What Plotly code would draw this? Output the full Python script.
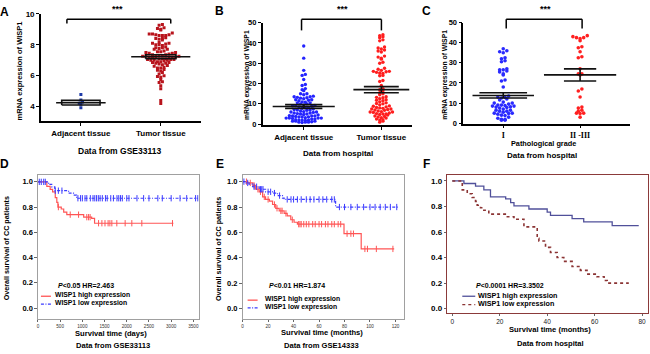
import numpy as np
import plotly.graph_objects as go

# ---------------- data ----------------
A_categories = ["Adjacent tissue", "Tumor tissue"]
A_adjacent = [4.78, 4.42, 4.3, 4.22, 4.15, 3.92]
A_tumor = [9.3, 9.25, 9.1, 9.05, 9.0, 8.95,
           8.75, 8.7, 8.7, 8.65, 8.65, 8.6, 8.6, 8.6,
           8.45, 8.4, 8.4, 8.35, 8.3,
           8.15, 8.1, 8.1, 8.05, 8.0, 8.0, 7.95,
           7.85, 7.8, 7.8, 7.75, 7.7, 7.7,
           7.6, 7.55, 7.55, 7.5, 7.5, 7.45, 7.45, 7.4,
           7.35, 7.35, 7.3, 7.3, 7.3, 7.25, 7.25, 7.25, 7.2, 7.2, 7.2, 7.2,
           7.15, 7.15, 7.1, 7.1, 7.1, 7.05, 7.05, 7.05, 7.0, 7.0, 7.0,
           6.95, 6.9, 6.9, 6.85, 6.85, 6.8, 6.8, 6.75,
           6.7, 6.65, 6.6, 6.55, 6.5, 6.5,
           6.4, 6.35, 6.3, 6.2,
           6.1, 6.0, 5.95, 5.9,
           5.75, 5.6, 5.55,
           5.35, 5.15,
           4.4, 4.2]
A_mean = [4.25, 7.22]
A_sem = [0.15, 0.13]
A_yticks = [4, 6, 8, 10]

B_categories = ["Adjacent tissue", "Tumor tissue"]
B_adjacent = [38.5, 32.5, 26.5, 24.5, 24, 22, 19.5, 19, 17.5, 17, 16.5, 15, 15, 14.5,
              13.8, 13.5, 13.5, 13.2, 13, 12.8, 12.5, 12, 12, 11.8, 11.5, 11, 10.8, 10.5, 10.5, 10, 10,
              9.5, 9.2, 9, 9, 8.8, 8.5, 8.2, 8, 7.8, 7.5, 7.2, 7, 7, 6.8, 6.5, 6.2, 6, 6, 5.8,
              5.5, 5.5, 5.2, 5, 5, 4.8, 4.5, 4.2, 4, 4, 4, 3.8, 3.5, 3.5, 3.5, 3.2, 3, 3, 3, 3,
              2.8, 2.5, 2.5, 2.2, 2, 2, 2, 1.8, 1.5, 1.5, 1.5, 1.2, 1, 1, 1, 0.8]
B_tumor = [44, 43.5, 43, 42.5, 41.5, 41, 38, 37.5, 37, 36.5, 36, 35.5, 33.5, 33, 32.5, 32,
           30.5, 30, 27.5, 27, 26.5, 26, 26, 25.8, 25.5, 25.2, 25, 24, 23.8, 21.5, 21, 19,
           17.5, 17, 16.5, 15.5, 15, 14.5, 13.5, 13.2, 13, 12.5, 12, 11.8, 11.5, 11, 10.5,
           10.2, 10, 9.5, 9, 8.8, 8.5, 8.2, 8, 7.8, 7.5, 7.5, 7.2, 7, 6.8, 6.5, 6.2, 6, 6,
           5.8, 5.5, 5.2, 5, 5, 4.8, 4.5, 4, 3.8, 3.5, 3.2, 3, 2.5, 2.2, 2, 1.5, 1]
B_mean = [8.7, 17.0]
B_sem = [0.9, 1.5]
BC_yticks = [0, 10, 20, 30, 40, 50]

C_categories = ["I", "II -III"]
C_grade1 = [37, 36, 35.5, 35, 32.5, 32, 31, 30.5, 27, 26.5, 26.5, 26, 25.5, 24.5, 24, 21.5,
            21, 18, 13.5, 13, 12.8, 12.5, 12, 11.5, 10.5, 10, 10, 9.5, 9, 9, 8.8, 8.5, 8.5,
            8.2, 8, 7.8, 7.5, 7, 6.5, 6.5, 6, 6, 5.5, 5, 5, 4.8, 4.5, 4, 3.8, 3, 2.5, 2, 2,
            1.5, 1.5]
C_grade23 = [43.5, 43, 42.5, 42.5, 42, 41, 38, 37.5, 35.5, 33, 32.5, 27, 24.5, 24.5, 24,
             17, 16, 13, 8, 7.5, 6.5, 6, 5, 5, 4.8, 3]
C_mean = [13.8, 24.0]
C_sem = [1.3, 3.0]

KM_yticks = [0, 0.2, 0.4, 0.6, 0.8, 1.0]

D_high_time = [0, 200, 275, 330, 390, 425, 450, 525, 580, 650, 1030, 1210, 1275, 3050]
D_high_surv = [1.0, 0.965, 0.94, 0.92, 0.875, 0.837, 0.80, 0.785, 0.76, 0.74, 0.72, 0.71, 0.672, 0.672]
D_high_censor = [460, 727, 915, 1100, 1140, 1175, 1365, 1440, 1510, 1580, 1620, 1664, 1776, 1964, 2114, 2339, 3030]
D_low_time = [0, 240, 310, 380, 690, 800, 870, 3600]
D_low_surv = [1.0, 0.98, 0.96, 0.93, 0.91, 0.895, 0.87, 0.87]
D_low_censor = [30, 75, 130, 165, 390, 460, 540, 900, 960, 1000, 1060, 1100, 1180, 1240, 1280,
                1320, 1360, 1400, 1450, 1520, 1560, 1640, 1700, 1780, 1820, 1860, 1900, 2000,
                2050, 2230, 2380, 2500, 2700, 2800, 3000, 3200, 3350, 3550, 3600]
D_xticks = [0, 500, 1000, 1500, 2000, 2500, 3000, 3500]

E_high_time = [0, 4, 8, 10, 13, 15.7, 18, 21, 23.5, 26, 28.7, 32.6, 35, 37.8, 40.4, 43, 79.6, 93.1, 119]
E_high_surv = [1.0, 0.99, 0.97, 0.94, 0.92, 0.88, 0.86, 0.846, 0.82, 0.79, 0.77, 0.75, 0.73, 0.70, 0.68, 0.665, 0.59, 0.47, 0.47]
E_high_censor = [3, 6, 9, 12, 14, 17, 20, 25, 27, 30, 31, 34, 39, 44, 45, 46, 48, 50, 52, 55, 57,
                 60, 62, 65, 67, 70, 72, 75, 77, 82, 85, 87, 96, 98, 105, 118]
E_low_time = [0, 2.6, 5, 7.8, 13, 18, 23.5, 27.4, 31.3, 32.6, 73, 122]
E_low_surv = [1.0, 0.99, 0.98, 0.96, 0.94, 0.92, 0.91, 0.89, 0.87, 0.86, 0.80, 0.80]
E_low_censor = [1, 4, 9, 11, 14, 15, 16, 20, 22, 25, 29, 35, 38, 40, 43, 46, 50, 53, 56, 60, 63,
                66, 70, 72, 76, 80, 85, 90, 95, 100, 104, 108, 112, 116, 121]
E_xticks = [0, 20, 40, 60, 80, 100, 120]

F_high_time = [0, 4.9, 9.8, 13.3, 16.1, 22.5, 24.6, 26, 32.3, 40, 41.4, 50.5, 55.4, 67.4, 78.6]
F_high_surv = [1.0, 0.98, 0.96, 0.93, 0.875, 0.86, 0.83, 0.805, 0.78, 0.755, 0.73, 0.705, 0.68, 0.65, 0.65]
F_low_time = [0, 4.2, 6.3, 8.4, 9.8, 10.5, 11.9, 13.3, 15.4, 23.2, 26, 30.2, 35.8, 36.5, 39.3,
              41.4, 44.2, 47, 50.5, 54, 56.8, 61, 64, 65.3, 74.4]
F_low_surv = [1.0, 0.93, 0.90, 0.87, 0.84, 0.81, 0.79, 0.77, 0.74, 0.72, 0.70, 0.64, 0.55, 0.53,
              0.48, 0.44, 0.40, 0.37, 0.33, 0.30, 0.27, 0.25, 0.22, 0.20, 0.20]
F_xticks = [0, 20, 40, 60, 80]

# ---------------- layout helpers ----------------
W, H = 650, 354
SANS = "Liberation Sans, Arial, sans-serif"
SERIF = "Liberation Serif, Times New Roman, serif"


def px(x):
    return x / W


def py(y):
    return 1 - y / H


PANELS = {
    "A": dict(n="", xpx=(40, 200), ypx=(10, 120), xr=(-0.5, 1.5), yr=(3.05, 10)),
    "B": dict(n="2", xpx=(262, 412), ypx=(19, 124), xr=(-0.53, 1.4), yr=(-0.5, 50)),
    "C": dict(n="3", xpx=(463, 630), ypx=(19, 123), xr=(-0.52, 1.65), yr=(-0.5, 50)),
    "D": dict(n="4", xpx=(37, 198), ypx=(175, 322), xr=(0, 3620), yr=(-0.085, 1.054)),
    "E": dict(n="5", xpx=(242, 404), ypx=(175, 322), xr=(0, 127), yr=(-0.08, 1.052)),
    "F": dict(n="6", xpx=(447, 648), ypx=(175, 316), xr=(-2.1, 82.5), yr=(-0.033, 1.046)),
}
for p in PANELS.values():
    p["ppx"] = (p["xpx"][1] - p["xpx"][0]) / (p["xr"][1] - p["xr"][0])
    p["ppy"] = (p["ypx"][1] - p["ypx"][0]) / (p["yr"][1] - p["yr"][0])

fig = go.Figure()


def swarm(vals, center, panel, d=3.6):
    vals = np.asarray(vals, float)
    bw = d / panel["ppy"]
    bins = np.floor(vals / bw).astype(int)
    xs = np.zeros_like(vals)
    for b in np.unique(bins):
        idx = np.where(bins == b)[0]
        idx = idx[np.argsort(vals[idx])]
        n = len(idx)
        order = np.argsort(np.abs(np.arange(n) - (n - 1) / 2))
        offs = (np.arange(n) - (n - 1) / 2) * d / panel["ppx"]
        xs[idx] = center + offs[order]
    return xs


def dot_panel(key, groups, colors, mean, sem, wmean, wcap, box=False, size=3.4, spacing=3.4):
    p = PANELS[key]
    xa, ya = "x" + p["n"], "y" + p["n"]
    for i, (vals, col) in enumerate(zip(groups, colors)):
        fig.add_trace(go.Scatter(x=swarm(vals, i, p, d=spacing), y=vals, mode="markers",
                                 marker=dict(color=col, size=size, symbol="square" if key == "A" else "circle",
                                             line=dict(width=0)),
                                 xaxis=xa, yaxis=ya, showlegend=False, hoverinfo="skip"))
    lx, ly = [], []
    for i in range(len(mean)):
        m, s = mean[i], sem[i]
        lx += [i - wmean[i], i + wmean[i], None]
        ly += [m, m, None]
        if box:
            lx += [i - wcap[i], i + wcap[i], i + wcap[i], i - wcap[i], i - wcap[i], None]
            ly += [m - s, m - s, m + s, m + s, m - s, None]
        else:
            lx += [i - wcap[i], i + wcap[i], None, i - wcap[i], i + wcap[i], None, i, i, None]
            ly += [m + s, m + s, None, m - s, m - s, None, m - s, m + s, None]
    fig.add_trace(go.Scatter(x=lx, y=ly, mode="lines", line=dict(color="#111111", width=1.6),
                             xaxis=xa, yaxis=ya, showlegend=False, hoverinfo="skip"))


def step_value(times, surv, t):
    times = np.asarray(times, float)
    surv = np.asarray(surv, float)
    idx = np.searchsorted(times, t, side="right") - 1
    return surv[np.clip(idx, 0, len(surv) - 1)]


def km(key, times, surv, color, dash, width=1.2, censor=None):
    p = PANELS[key]
    xa, ya = "x" + p["n"], "y" + p["n"]
    fig.add_trace(go.Scatter(x=times, y=surv, mode="lines", line=dict(color=color, width=width, dash=dash, shape="hv"),
                             xaxis=xa, yaxis=ya, showlegend=False, hoverinfo="skip"))
    if censor:
        fig.add_trace(go.Scatter(x=censor, y=step_value(times, surv, censor), mode="markers",
                                 marker=dict(symbol="line-ns", size=4.5, color=color, line=dict(width=1, color=color)),
                                 xaxis=xa, yaxis=ya, showlegend=False, hoverinfo="skip"))


# ---------------- traces ----------------
dot_panel("A", [A_adjacent, A_tumor], ["#1e3aa8", "#b8141c"], A_mean, A_sem,
          wmean=[0.31, 0.37], wcap=[0.24, 0.19], box=True, size=3.0, spacing=3.3)
dot_panel("B", [B_adjacent, B_tumor], ["#2424ff", "#ff1e1e"], B_mean, B_sem,
          wmean=[0.40, 0.36], wcap=[0.24, 0.225], size=3.4, spacing=3.2)
dot_panel("C", [C_grade1, C_grade23], ["#2a2aff", "#ff2020"], C_mean, C_sem,
          wmean=[0.40, 0.47], wcap=[0.31, 0.21], size=3.6, spacing=3.6)

RED_KM = "#ff5555"
BLUE_KM = "#3a3aff"
DASHDOT = "3px,1.5px,1px,1.5px"
km("D", D_high_time, D_high_surv, RED_KM, "solid", censor=D_high_censor)
km("D", D_low_time, D_low_surv, BLUE_KM, DASHDOT, censor=D_low_censor)
km("E", E_high_time, E_high_surv, RED_KM, "solid", censor=E_high_censor)
km("E", E_low_time, E_low_surv, BLUE_KM, DASHDOT, censor=E_low_censor)
km("F", F_high_time, F_high_surv, "#50509a", "solid", width=1.3)
km("F", F_low_time, F_low_surv, "#8b3434", "dot", width=1.6)

# ---------------- axes ----------------
layout_axes = {}


def set_axes(key, xcfg, ycfg):
    p = PANELS[key]
    n = p["n"]
    xcfg.update(domain=[px(p["xpx"][0]), px(p["xpx"][1])], range=list(p["xr"]), anchor="y" + n,
                showgrid=False, zeroline=False, fixedrange=True)
    ycfg.update(domain=[py(p["ypx"][1]), py(p["ypx"][0])], range=list(p["yr"]), anchor="x" + n,
                showgrid=False, zeroline=False, fixedrange=True)
    layout_axes["xaxis" + n] = xcfg
    layout_axes["yaxis" + n] = ycfg


def top_cfg(tickvals, ticktext, font, ticklen=3):
    return dict(showline=True, linecolor="black", linewidth=1.5, ticks="outside", ticklen=ticklen,
                tickwidth=1.2, tickcolor="black", tickvals=tickvals, ticktext=ticktext, tickfont=font)


bold8 = dict(family=SANS, size=8, color="black", weight="bold")
bold75 = dict(family=SANS, size=7.5, color="black", weight="bold")
set_axes("A", top_cfg([0, 1], A_categories, bold8), top_cfg(A_yticks, [str(v) for v in A_yticks], bold8))
set_axes("B", top_cfg([0, 1], B_categories, bold8), top_cfg(BC_yticks, [str(v) for v in BC_yticks], bold75))
set_axes("C", top_cfg([0, 1], C_categories, dict(family=SERIF, size=8, color="black", weight="bold"), ticklen=2),
         top_cfg(BC_yticks, [str(v) for v in BC_yticks], bold75))


def km_cfg(frame, tickvals, font, fmt=None):
    c = dict(showline=True, mirror=True, linecolor=frame, linewidth=1.2, ticks="outside", ticklen=2.5,
             tickwidth=1, tickcolor="#666666", tickvals=tickvals, tickfont=font)
    if fmt:
        c["ticktext"] = [format(v, fmt) for v in tickvals]
    return c


kmy = dict(family=SANS, size=7.5, color="black", weight="bold")
tiny = dict(family=SANS, size=4.6, color="#333333")
set_axes("D", km_cfg("#a0a0a0", D_xticks, tiny), km_cfg("#a0a0a0", KM_yticks, kmy, ".1f"))
set_axes("E", km_cfg("#a0a0a0", E_xticks, tiny), km_cfg("#a0a0a0", KM_yticks, kmy, ".1f"))
set_axes("F", km_cfg("#8b3a3a", F_xticks, dict(family=SANS, size=6.5, color="#222222")),
         km_cfg("#8b3a3a", KM_yticks, dict(family=SANS, size=8, color="black", weight="bold"), ".1f"))

fig.update_layout(width=W, height=H, margin=dict(l=0, r=0, t=0, b=0, pad=0),
                  paper_bgcolor="white", plot_bgcolor="white", showlegend=False, **layout_axes)


# ---------------- annotations & decorations ----------------
def txt(x, y, s, size, bold=True, anchor="center", angle=0, family=SANS, color="black"):
    fig.add_annotation(xref="paper", yref="paper", x=px(x), y=py(y), text=s, showarrow=False,
                       font=dict(family=family, size=size, color=color, weight="bold" if bold else "normal"),
                       xanchor=anchor, yanchor="middle", textangle=angle, borderpad=0)


def seg(x0, y0, x1, y1, color="black", width=1.5, dash="solid"):
    fig.add_shape(type="line", xref="paper", yref="paper", x0=px(x0), y0=py(y0), x1=px(x1), y1=py(y1),
                  line=dict(color=color, width=width, dash=dash))


# panel letters
for letter, (x, y) in {"A": (4, 8), "B": (219, 7), "C": (426, 7),
                       "D": (4, 164), "E": (219, 164), "F": (426, 164)}.items():
    txt(x, y, letter, 12)

# significance brackets
for (x0, x1, ytop, yend, xs) in [(66, 170, 15.7, 20, 117), (301, 381, 15.7, 27, 342), (506, 582, 15.7, 25, 545)]:
    seg(x0, yend, x0, ytop)
    seg(x0, ytop, x1, ytop)
    seg(x1, ytop, x1, yend)
    txt(xs, 5.5, "***", 9)

# top panel titles
txt(18, 68, "mRNA expression of WISP1", 7.5, angle=-90)
txt(247, 73, "mRNA expression of WISP1", 6.8, angle=-90)
txt(445, 72, "mRNA expression of WISP1", 6.8, angle=-90)
txt(119, 150, "Data from GSE33113", 8.5)
txt(338, 153, "Data from hospital", 8)
txt(543, 143, "Pathological grade", 7.3)
txt(542, 155.5, "Data from hospital", 8)

# KM titles
txt(5, 250, "Overall survival of CC patients", 7.2, angle=-90)
txt(218, 251, "Overall survival of CC patients", 7.2, angle=-90)
txt(110, 337, "Survival time (days)", 7.6)
txt(112, 349.5, "Data from GSE33113", 7.6)
txt(321, 336, "Survival time (months)", 7.6)
txt(321, 349, "Data from GSE14333", 7.6)
txt(550, 333, "Survival time (months)", 7.6)
txt(550, 347, "Data from hospital", 7.6)

# stats text
txt(56, 287.5, "<i>P</i>&lt;0.05 HR=2.463", 7, anchor="left")
txt(267, 287.5, "<i>P</i>&lt;0.01 HR=1.874", 7, anchor="left")
txt(475, 287.5, "<i>P</i>&lt;0.0001 HR=3.3502", 7, anchor="left")

# legends
for (sx0, sx1, tx, y1, y2, c1, d1, c2, d2, fs) in [
        (40, 50, 53, 298, 306, RED_KM, "solid", BLUE_KM, DASHDOT, 6.8),
        (247, 257, 263, 302, 310, RED_KM, "solid", BLUE_KM, DASHDOT, 6.8),
        (462, 475, 477, 298, 306.5, "#50509a", "solid", "#8b3434", "dot", 7.2)]:
    seg(sx0, y1 + 1, sx1, y1 + 1, color=c1, width=1.3, dash=d1)
    seg(sx0, y2 + 1, sx1, y2 + 1, color=c2, width=1.3, dash=d2)
    txt(tx, y1, "WISP1 high expression", fs, anchor="left")
    txt(tx, y2, "WISP1 low expression", fs, anchor="left")

fig.write_html("out.html", config={"displayModeBar": False},
               post_script="document.body.style.margin='0';document.body.style.overflow='hidden';")
